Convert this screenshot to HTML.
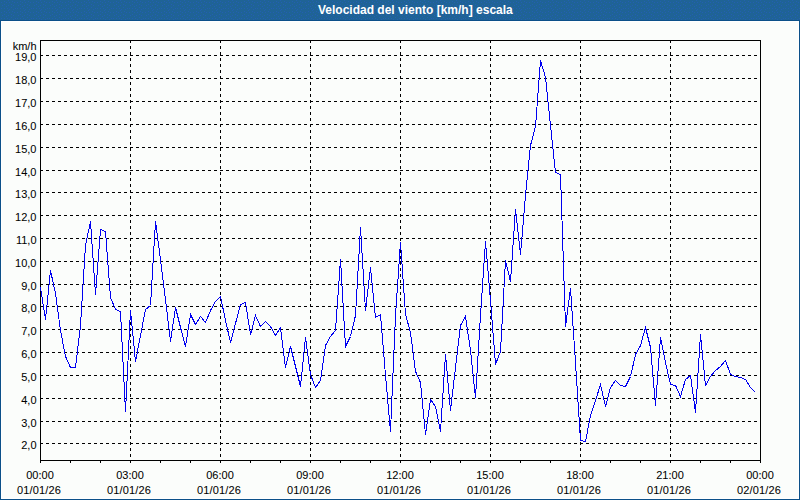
<!DOCTYPE html>
<html><head><meta charset="utf-8"><style>
html,body{margin:0;padding:0;}
body{width:800px;height:500px;position:relative;overflow:hidden;background:#fcfefc;font-family:"Liberation Sans", sans-serif;}
#frame{position:absolute;left:0;top:20px;width:798px;height:478px;border:1px solid #0b5089;background:#fbfdfb;box-shadow:inset 1px 1px 0 #fff,inset -1px -1px 0 #fff;}
#title{position:absolute;left:0;top:0;width:800px;height:20px;background:#1f6396;}
#title span{position:absolute;left:318px;top:3px;color:#fff;font-weight:bold;font-size:12px;line-height:14px;white-space:nowrap;}
svg{position:absolute;left:0;top:0;}
.yl{position:absolute;left:0;width:36.5px;-webkit-text-stroke:0.05px #000;text-align:right;font-size:11px;line-height:13px;color:#000;white-space:nowrap;}
.xl{position:absolute;width:80px;-webkit-text-stroke:0.05px #000;text-align:center;font-size:11px;line-height:13px;color:#000;white-space:nowrap;}
</style></head><body>
<div id="frame"></div>
<div id="title"><svg width="800" height="20" style="position:absolute;left:0;top:0"><defs><pattern id="dith" width="16" height="10" patternUnits="userSpaceOnUse"><rect x="8" y="0" width="1" height="1" fill="#235fb2"/><rect x="4" y="1" width="1" height="1" fill="#235fb2"/><rect x="12" y="1" width="1" height="1" fill="#235fb2"/><rect x="1" y="2" width="1" height="1" fill="#235fb2"/><rect x="6" y="2" width="1" height="1" fill="#235fb2"/><rect x="9" y="2" width="1" height="1" fill="#235fb2"/><rect x="14" y="2" width="1" height="1" fill="#235fb2"/><rect x="4" y="4" width="1" height="1" fill="#235fb2"/><rect x="11" y="4" width="1" height="1" fill="#235fb2"/><rect x="2" y="5" width="1" height="1" fill="#235fb2"/><rect x="8" y="5" width="1" height="1" fill="#235fb2"/><rect x="13" y="5" width="1" height="1" fill="#235fb2"/><rect x="6" y="6" width="1" height="1" fill="#235fb2"/><rect x="11" y="7" width="1" height="1" fill="#235fb2"/><rect x="1" y="8" width="1" height="1" fill="#235fb2"/><rect x="4" y="8" width="1" height="1" fill="#235fb2"/><rect x="7" y="8" width="1" height="1" fill="#235fb2"/><rect x="15" y="8" width="1" height="1" fill="#235fb2"/><rect x="9" y="9" width="1" height="1" fill="#235fb2"/><rect x="13" y="9" width="1" height="1" fill="#235fb2"/></pattern></defs><rect width="800" height="20" fill="url(#dith)"/></svg><span>Velocidad del viento [km/h] escala</span></div>
<svg width="800" height="500" viewBox="0 0 800 500" shape-rendering="crispEdges">
<line x1="40" y1="443.5" x2="760" y2="443.5" stroke="#000" stroke-dasharray="3 3"/>
<line x1="40" y1="421.5" x2="760" y2="421.5" stroke="#000" stroke-dasharray="3 3"/>
<line x1="40" y1="398.5" x2="760" y2="398.5" stroke="#000" stroke-dasharray="3 3"/>
<line x1="40" y1="375.5" x2="760" y2="375.5" stroke="#000" stroke-dasharray="3 3"/>
<line x1="40" y1="352.5" x2="760" y2="352.5" stroke="#000" stroke-dasharray="3 3"/>
<line x1="40" y1="329.5" x2="760" y2="329.5" stroke="#000" stroke-dasharray="3 3"/>
<line x1="40" y1="306.5" x2="760" y2="306.5" stroke="#000" stroke-dasharray="3 3"/>
<line x1="40" y1="284.5" x2="760" y2="284.5" stroke="#000" stroke-dasharray="3 3"/>
<line x1="40" y1="261.5" x2="760" y2="261.5" stroke="#000" stroke-dasharray="3 3"/>
<line x1="40" y1="238.5" x2="760" y2="238.5" stroke="#000" stroke-dasharray="3 3"/>
<line x1="40" y1="215.5" x2="760" y2="215.5" stroke="#000" stroke-dasharray="3 3"/>
<line x1="40" y1="192.5" x2="760" y2="192.5" stroke="#000" stroke-dasharray="3 3"/>
<line x1="40" y1="170.5" x2="760" y2="170.5" stroke="#000" stroke-dasharray="3 3"/>
<line x1="40" y1="147.5" x2="760" y2="147.5" stroke="#000" stroke-dasharray="3 3"/>
<line x1="40" y1="124.5" x2="760" y2="124.5" stroke="#000" stroke-dasharray="3 3"/>
<line x1="40" y1="101.5" x2="760" y2="101.5" stroke="#000" stroke-dasharray="3 3"/>
<line x1="40" y1="78.5" x2="760" y2="78.5" stroke="#000" stroke-dasharray="3 3"/>
<line x1="40" y1="55.5" x2="760" y2="55.5" stroke="#000" stroke-dasharray="3 3"/>
<line x1="130.5" y1="40" x2="130.5" y2="460" stroke="#000" stroke-dasharray="3 3"/>
<line x1="220.5" y1="40" x2="220.5" y2="460" stroke="#000" stroke-dasharray="3 3"/>
<line x1="310.5" y1="40" x2="310.5" y2="460" stroke="#000" stroke-dasharray="3 3"/>
<line x1="400.5" y1="40" x2="400.5" y2="460" stroke="#000" stroke-dasharray="3 3"/>
<line x1="490.5" y1="40" x2="490.5" y2="460" stroke="#000" stroke-dasharray="3 3"/>
<line x1="580.5" y1="40" x2="580.5" y2="460" stroke="#000" stroke-dasharray="3 3"/>
<line x1="670.5" y1="40" x2="670.5" y2="460" stroke="#000" stroke-dasharray="3 3"/>
<line x1="40.5" y1="460" x2="40.5" y2="463" stroke="#000"/>
<line x1="70.5" y1="460" x2="70.5" y2="463" stroke="#000"/>
<line x1="100.5" y1="460" x2="100.5" y2="463" stroke="#000"/>
<line x1="130.5" y1="460" x2="130.5" y2="463" stroke="#000"/>
<line x1="160.5" y1="460" x2="160.5" y2="463" stroke="#000"/>
<line x1="190.5" y1="460" x2="190.5" y2="463" stroke="#000"/>
<line x1="220.5" y1="460" x2="220.5" y2="463" stroke="#000"/>
<line x1="250.5" y1="460" x2="250.5" y2="463" stroke="#000"/>
<line x1="280.5" y1="460" x2="280.5" y2="463" stroke="#000"/>
<line x1="310.5" y1="460" x2="310.5" y2="463" stroke="#000"/>
<line x1="340.5" y1="460" x2="340.5" y2="463" stroke="#000"/>
<line x1="370.5" y1="460" x2="370.5" y2="463" stroke="#000"/>
<line x1="400.5" y1="460" x2="400.5" y2="463" stroke="#000"/>
<line x1="430.5" y1="460" x2="430.5" y2="463" stroke="#000"/>
<line x1="460.5" y1="460" x2="460.5" y2="463" stroke="#000"/>
<line x1="490.5" y1="460" x2="490.5" y2="463" stroke="#000"/>
<line x1="520.5" y1="460" x2="520.5" y2="463" stroke="#000"/>
<line x1="550.5" y1="460" x2="550.5" y2="463" stroke="#000"/>
<line x1="580.5" y1="460" x2="580.5" y2="463" stroke="#000"/>
<line x1="610.5" y1="460" x2="610.5" y2="463" stroke="#000"/>
<line x1="640.5" y1="460" x2="640.5" y2="463" stroke="#000"/>
<line x1="670.5" y1="460" x2="670.5" y2="463" stroke="#000"/>
<line x1="700.5" y1="460" x2="700.5" y2="463" stroke="#000"/>
<line x1="730.5" y1="460" x2="730.5" y2="463" stroke="#000"/>
<line x1="760.5" y1="460" x2="760.5" y2="463" stroke="#000"/>
<rect x="40.5" y="40.5" width="720" height="420" fill="none" stroke="#000"/>
<polyline points="40.5,287.5 45.5,319.5 50.5,270.5 55.5,293.5 60.5,330.5 65.5,356.5 70.5,367.5 75.5,367.5 80.5,325.5 85.5,245.5 90.5,221.5 95.5,294.5 100.5,229.5 105.5,231.5 110.5,297.5 115.5,309.5 120.5,311.5 125.5,411.5 130.5,310.5 135.5,361.5 140.5,335.5 145.5,309.5 150.5,305.5 155.5,221.5 160.5,259.5 165.5,299.5 170.5,341.5 175.5,307.5 180.5,327.5 185.5,346.5 190.5,314.5 195.5,324.5 200.5,316.5 205.5,322.5 210.5,310.5 215.5,301.5 220.5,296.5 225.5,320.5 230.5,342.5 235.5,323.5 240.5,304.5 245.5,302.5 250.5,334.5 255.5,315.5 260.5,326.5 265.5,321.5 270.5,326.5 275.5,335.5 280.5,327.5 285.5,367.5 290.5,346.5 295.5,366.5 300.5,386.5 305.5,337.5 310.5,374.5 315.5,387.5 320.5,380.5 325.5,345.5 330.5,336.5 335.5,330.5 340.5,259.5 345.5,346.5 350.5,336.5 355.5,315.5 360.5,227.5 365.5,310.5 370.5,267.5 375.5,317.5 380.5,314.5 385.5,375.5 390.5,431.5 395.5,315.5 400.5,242.5 405.5,314.5 410.5,332.5 415.5,371.5 420.5,382.5 425.5,434.5 430.5,399.5 435.5,406.5 440.5,431.5 445.5,354.5 450.5,410.5 455.5,367.5 460.5,325.5 465.5,316.5 470.5,350.5 475.5,397.5 480.5,315.5 485.5,241.5 490.5,300.5 495.5,364.5 500.5,351.5 505.5,260.5 510.5,281.5 515.5,209.5 520.5,254.5 525.5,195.5 530.5,145.5 535.5,126.5 540.5,60.5 545.5,77.5 550.5,125.5 555.5,172.5 560.5,174.5 565.5,326.5 570.5,288.5 575.5,362.5 580.5,440.5 585.5,441.5 590.5,415.5 595.5,400.5 600.5,384.5 605.5,406.5 610.5,387.5 615.5,380.5 620.5,385.5 625.5,386.5 630.5,376.5 635.5,354.5 640.5,345.5 645.5,327.5 650.5,347.5 655.5,405.5 660.5,337.5 665.5,362.5 670.5,384.5 675.5,385.5 680.5,396.5 685.5,379.5 690.5,375.5 695.5,412.5 700.5,334.5 705.5,385.5 710.5,376.5 715.5,370.5 720.5,366.5 725.5,360.5 730.5,374.5 735.5,376.5 740.5,377.5 745.5,379.5 750.5,387.5 755.5,392.5" fill="none" stroke="#0000f0" stroke-width="1" shape-rendering="crispEdges"/>
</svg>
<div class="yl" style="top:439px">2,0</div>
<div class="yl" style="top:417px">3,0</div>
<div class="yl" style="top:394px">4,0</div>
<div class="yl" style="top:371px">5,0</div>
<div class="yl" style="top:348px">6,0</div>
<div class="yl" style="top:325px">7,0</div>
<div class="yl" style="top:302px">8,0</div>
<div class="yl" style="top:280px">9,0</div>
<div class="yl" style="top:257px">10,0</div>
<div class="yl" style="top:234px">11,0</div>
<div class="yl" style="top:211px">12,0</div>
<div class="yl" style="top:188px">13,0</div>
<div class="yl" style="top:166px">14,0</div>
<div class="yl" style="top:143px">15,0</div>
<div class="yl" style="top:120px">16,0</div>
<div class="yl" style="top:97px">17,0</div>
<div class="yl" style="top:74px">18,0</div>
<div class="yl" style="top:51px">19,0</div>
<div class="yl" style="top:40px">km/h</div>
<div class="xl" style="left:0px;top:469px">00:00</div>
<div class="xl" style="left:-1px;top:484px;letter-spacing:0.15px">01/01/26</div>
<div class="xl" style="left:90px;top:469px">03:00</div>
<div class="xl" style="left:89px;top:484px;letter-spacing:0.15px">01/01/26</div>
<div class="xl" style="left:180px;top:469px">06:00</div>
<div class="xl" style="left:179px;top:484px;letter-spacing:0.15px">01/01/26</div>
<div class="xl" style="left:270px;top:469px">09:00</div>
<div class="xl" style="left:269px;top:484px;letter-spacing:0.15px">01/01/26</div>
<div class="xl" style="left:360px;top:469px">12:00</div>
<div class="xl" style="left:359px;top:484px;letter-spacing:0.15px">01/01/26</div>
<div class="xl" style="left:450px;top:469px">15:00</div>
<div class="xl" style="left:449px;top:484px;letter-spacing:0.15px">01/01/26</div>
<div class="xl" style="left:540px;top:469px">18:00</div>
<div class="xl" style="left:539px;top:484px;letter-spacing:0.15px">01/01/26</div>
<div class="xl" style="left:630px;top:469px">21:00</div>
<div class="xl" style="left:629px;top:484px;letter-spacing:0.15px">01/01/26</div>
<div class="xl" style="left:720px;top:469px">00:00</div>
<div class="xl" style="left:719px;top:484px;letter-spacing:0.15px">02/01/26</div>
</body></html>
